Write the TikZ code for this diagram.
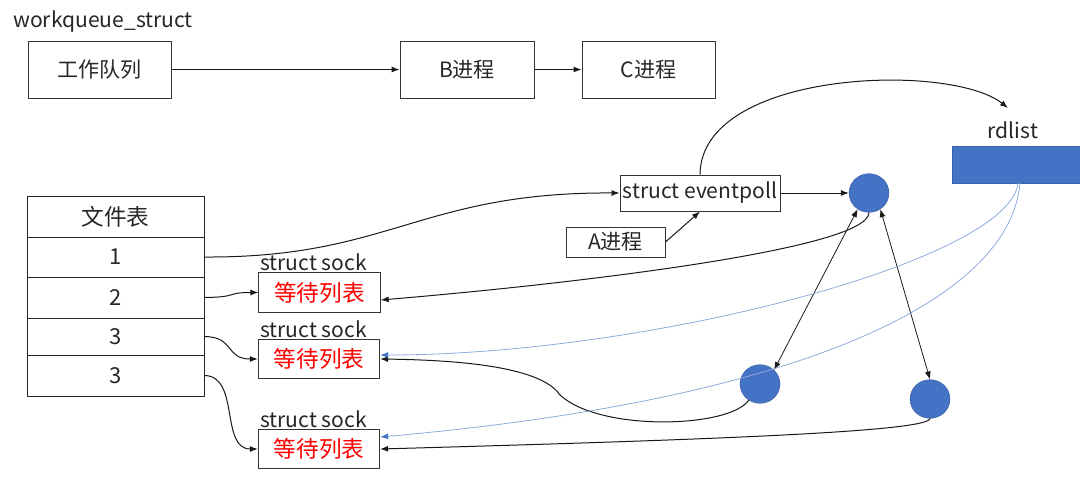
\documentclass[tikz,border=0pt]{standalone}
\usepackage{fontspec}
\setmainfont{Noto Sans CJK SC}
\usetikzlibrary{shapes.geometric,arrows.meta}
\definecolor{eblue}{HTML}{4472C4}
\definecolor{lblue}{HTML}{8FAADC}
\definecolor{txt}{HTML}{262626}
\begin{document}
\begin{tikzpicture}[x=0.75pt,y=-0.75pt,
  font=\fontsize{15.8}{19}\selectfont, text=txt,
  box/.style={draw=black!80, line width=0.75pt, inner sep=0pt},
  cell/.style={draw=black!85, line width=0.75pt, inner sep=0pt, minimum width=132.75pt, font=\fontsize{16.5}{20}\selectfont},
  sockbox/.style={draw=black!80, line width=0.75pt, inner sep=0pt, minimum width=91pt, minimum height=29.5pt, text=red, font=\fontsize{17}{20}\selectfont},
  dot/.style={ellipse, fill=eblue, draw=eblue!80!black, line width=0.3pt, minimum width=30pt, minimum height=29pt, inner sep=0pt},
  arr/.style={-{Latex[length=6pt,width=4.5pt]}, line width=0.75pt, black!90},
  darr/.style={{Latex[length=6pt,width=4.5pt]}-{Latex[length=6pt,width=4.5pt]}, line width=0.6pt, black!90},
  barr/.style={-{Latex[length=6pt,width=4.5pt,color=eblue]}, line width=0.6pt, lblue}]
\useasboundingbox (0,0) rectangle (1080,479);

% top work queue
\node (wqlabel) at (103,22) {workqueue\_struct};
\node[box, minimum width=107.25pt, minimum height=42.75pt] (wq) at (99.5,69.5) {工作队列};
\node[box, minimum width=100.5pt, minimum height=42.75pt] (B) at (467,69.5) {B进程};
\node[box, minimum width=99.75pt, minimum height=42.75pt] (C) at (648.5,69.5) {C进程};
\draw[arr] (wq.east) -- (B.west);
\draw[arr] (B.east) -- (C.west);

% eventpoll and rdlist
\node[box, minimum width=120pt, minimum height=27pt] (ep) at (700,193) {struct eventpoll};
\node[box, minimum width=74.25pt, minimum height=22.5pt] (A) at (615.5,242) {A进程};
\node (rdlabel) at (1013,130) {rdlist};
\node[fill=eblue, draw=eblue!85!black, line width=0.4pt, inner sep=0pt, minimum width=96pt, minimum height=27.75pt] (rd) at (1016,164.5) {};
\coordinate (rdtip) at (1008,108);
\coordinate (rdb1) at (1018,183);
\coordinate (rdb2) at (1020,183);

% blue dots
\node[dot] (c1) at (869,193) {};
\node[dot] (c2) at (760,384) {};
\node[dot] (c3) at (930,399) {};

% file table
\node[cell, minimum height=30.75pt, font=\fontsize{17}{20}\selectfont] (hdr) at (115.5,216.5) {文件表};
\node[cell, minimum height=30pt] (r1) at (115.5,257) {1};
\node[cell, minimum height=30.75pt] (r2) at (115.5,297.5) {2};
\node[cell, minimum height=27.75pt] (r3) at (115.5,336.5) {3};
\node[cell, minimum height=30.75pt] (r4) at (115.5,375.5) {3};
\draw[line width=1.3pt, black!85] (hdr.south west) -- (hdr.south east);

% socks
\node (sl1) at (313.5,262) {struct sock};
\node[sockbox] (s1) at (319.5,292.5) {等待列表};
\node (sl2) at (313.5,329) {struct sock};
\node[sockbox] (s2) at (319,359) {等待列表};
\node (sl3) at (313.5,419) {struct sock};
\node[sockbox] (s3) at (319,449) {等待列表};

% connectors
\draw[arr] (ep.north) .. controls (701,70) and (950,62) .. (rdtip);
\draw[arr] (ep.east) -- (c1.west);
\draw[arr] (A.east) -- (ep.south);
\draw[arr] (r1.east) .. controls (390,258) and (420,192) .. (ep.west);
\draw[arr] (r2.east) .. controls (240,297) and (225,292.5) .. (s1.west);
\draw[arr] (r3.east) .. controls (235,337) and (225,359) .. (s2.west);
\draw[arr] (r4.east) .. controls (240,376) and (220,449) .. (s3.west);

\draw[arr] (c1.south) .. controls (869,250) and (560,285) .. ([yshift=-5.6pt]s1.east);
\draw[arr] (c2.235) .. controls (730,428) and (600,432) .. (560,395) .. controls (540,365) and (450,360) .. (s2.east);
\draw[arr] (c3.south) .. controls (928,432) and (700,440) .. (s3.east);

\draw[darr] (c1.-125) -- (c2.45);
\draw[darr] (c1.-55) -- (c3.north);

% blue connectors
\draw[barr] (rdb1) .. controls (1010,260) and (650,355) .. ([yshift=3pt]s2.east);
\draw[barr] (rdb2) .. controls (1010,300) and (800,400) .. ([yshift=9pt]s3.east);
\end{tikzpicture}
\end{document}
